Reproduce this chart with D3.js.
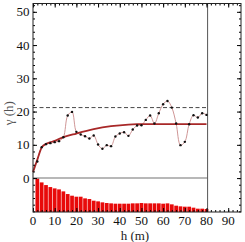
<!DOCTYPE html>
<html>
<head>
<meta charset="utf-8">
<script src="https://cdn.jsdelivr.net/npm/d3@7"></script>
<style>
  body { margin: 0; background: #fff; }
  text { font-family: "Liberation Serif", "DejaVu Serif", serif; }
</style>
</head>
<body>
<script>
// experimental semivariogram (lag in m, gamma)
let lags = [2, 4, 6, 8, 10, 12, 14, 16, 18, 20, 22, 24, 26, 28, 30, 32, 34, 36, 38, 40,
            42, 44, 46, 48, 50, 52, 54, 56, 58, 60, 62, 64, 66, 68, 70, 72, 74, 76, 78, 80];
let gammaExp = [5.0, 9.3, 10.2, 10.5, 10.8, 11.1, 12.3, 18.8, 19.9, 13.9,
                13.1, 12.6, 11.9, 12.8, 10.1, 8.8, 9.9, 9.6, 12.5, 13.4,
                13.8, 12.7, 14.6, 15.8, 15.9, 17.5, 18.8, 16.4, 19.5, 22.2,
                23.2, 21.2, 16.4, 9.9, 10.9, 16.2, 18.9, 18.2, 19.5, 19.0];
// number of pairs, drawn in the lower band (top of bar in gamma units)
let pairsTop = [0.0, -1.3, -2.1, -2.7, -3.1, -3.4, -4.0, -4.8, -5.3, -5.6,
                -5.6, -6.1, -6.3, -6.8, -7.0, -7.3, -7.5, -7.6, -7.7, -7.7,
                -7.7, -7.7, -7.6, -7.6, -7.5, -7.6, -7.6, -7.6, -7.6, -7.7,
                -7.6, -7.9, -8.3, -8.5, -8.6, -8.6, -8.9, -9.2, -9.2, -9.3];
// fitted model
let modelLag = [0, 2, 4, 6, 8, 10, 14, 20, 28, 36, 44, 48, 80];
let modelGamma = [1.8, 5.6, 9.2, 10.3, 10.8, 11.2, 12.3, 13.4, 14.7, 15.6, 16.1, 16.2, 16.2];
let sampleVar = 21.2;
let maxLag = 80.5;
let xTicks = [0, 10, 20, 30, 40, 50, 60, 70, 80, 90];
let yTicks = [0, 10, 20, 30, 40, 50];

let W = 245, H = 242;
let margin = {top: 3.5, right: 4, bottom: 30, left: 33};
let width = W - margin.left - margin.right,
    height = H - margin.top - margin.bottom;

let x = d3.scaleLinear().domain([0, 95.9]).range([0, width]);
let y = d3.scaleLinear().domain([-10.2, 52.5]).range([height, 0]);

let svg = d3.select("body").append("svg")
    .attr("width", W)
    .attr("height", H);

let g = svg.append("g")
    .attr("transform", "translate(" + margin.left + "," + margin.top + ")");

// bars of pair counts
let step = x(2) - x(0);
g.selectAll("rect.bar")
    .data(lags)
    .enter().append("rect")
    .attr("class", "bar")
    .attr("x", function(d) { return x(d - 1) + 0.3; })
    .attr("width", step - 0.6)
    .attr("y", function(d, i) { return y(pairsTop[i]); })
    .attr("height", function(d, i) { return y(-10.2) - y(pairsTop[i]); })
    .attr("fill", "#e80a0a");

// zero line
g.append("line")
    .attr("x1", x(0)).attr("x2", x(maxLag))
    .attr("y1", y(0)).attr("y2", y(0))
    .attr("stroke", "#a0a0a0")
    .attr("stroke-width", 1.5);

// sample variance
g.append("line")
    .attr("x1", x(0)).attr("x2", x(maxLag))
    .attr("y1", y(sampleVar)).attr("y2", y(sampleVar))
    .attr("stroke", "#333")
    .attr("stroke-width", 0.9)
    .attr("stroke-dasharray", "4,2.5");

// max lag line
g.append("line")
    .attr("x1", x(maxLag)).attr("x2", x(maxLag))
    .attr("y1", 0).attr("y2", height)
    .attr("stroke", "#555")
    .attr("stroke-width", 1);

// experimental line
let expLine = d3.line()
    .x(function(d, i) { return x(lags[i]); })
    .y(function(d) { return y(d); })
    .curve(d3.curveCatmullRom.alpha(0.5));

g.append("path")
    .datum(gammaExp)
    .attr("d", expLine)
    .attr("fill", "none")
    .attr("stroke", "#c98a8a")
    .attr("stroke-width", 0.9);

// model
let modelLine = d3.line()
    .x(function(d, i) { return x(modelLag[i]); })
    .y(function(d) { return y(d); })
    .curve(d3.curveMonotoneX);

g.append("path")
    .datum(modelGamma)
    .attr("d", modelLine)
    .attr("fill", "none")
    .attr("stroke", "#a82828")
    .attr("stroke-width", 1.8);

// points
g.selectAll("circle")
    .data(gammaExp)
    .enter().append("circle")
    .attr("cx", function(d, i) { return x(lags[i]); })
    .attr("cy", function(d) { return y(d); })
    .attr("r", 1.2)
    .attr("fill", "#111");

// axes with inward ticks
let xMinor = d3.range(0, 96, 2);
let yMinor = d3.range(-10, 53, 2);

g.append("g")
    .attr("transform", "translate(0," + height + ")")
    .call(d3.axisTop(x).tickValues(xMinor).tickSize(2).tickFormat(""))
    .call(function(a) { a.select(".domain").remove(); });
g.append("g")
    .attr("transform", "translate(0," + height + ")")
    .call(d3.axisTop(x).tickValues(xTicks).tickSize(4).tickFormat(""))
    .call(function(a) { a.select(".domain").remove(); });
g.append("g")
    .call(d3.axisBottom(x).tickValues(xMinor).tickSize(2).tickFormat(""))
    .call(function(a) { a.select(".domain").remove(); });
g.append("g")
    .call(d3.axisBottom(x).tickValues(xTicks).tickSize(4).tickFormat(""))
    .call(function(a) { a.select(".domain").remove(); });

g.append("g")
    .call(d3.axisRight(y).tickValues(yMinor).tickSize(2).tickFormat(""))
    .call(function(a) { a.select(".domain").remove(); });
g.append("g")
    .call(d3.axisRight(y).tickValues(yTicks).tickSize(4).tickFormat(""))
    .call(function(a) { a.select(".domain").remove(); });
g.append("g")
    .attr("transform", "translate(" + width + ",0)")
    .call(d3.axisLeft(y).tickValues(yMinor).tickSize(2).tickFormat(""))
    .call(function(a) { a.select(".domain").remove(); });
g.append("g")
    .attr("transform", "translate(" + width + ",0)")
    .call(d3.axisLeft(y).tickValues(yTicks).tickSize(4).tickFormat(""))
    .call(function(a) { a.select(".domain").remove(); });

// tick labels
g.selectAll("text.xl")
    .data(xTicks)
    .enter().append("text")
    .attr("class", "xl")
    .attr("x", function(d) { return x(d); })
    .attr("y", height + 12.5)
    .attr("text-anchor", "middle")
    .attr("font-size", 13)
    .attr("fill", "#111")
    .text(function(d) { return d; });

g.selectAll("text.yl")
    .data(yTicks)
    .enter().append("text")
    .attr("class", "yl")
    .attr("x", -3.5)
    .attr("y", function(d) { return y(d) + 4.5; })
    .attr("text-anchor", "end")
    .attr("font-size", 13)
    .attr("fill", "#111")
    .text(function(d) { return d; });

// frame
g.append("rect")
    .attr("width", width)
    .attr("height", height)
    .attr("fill", "none")
    .attr("stroke", "#222")
    .attr("stroke-width", 1);

// axis titles
svg.append("text")
    .attr("x", margin.left + x(47))
    .attr("y", H - 2)
    .attr("text-anchor", "middle")
    .attr("font-size", 13)
    .attr("fill", "#222")
    .text("h (m)");

svg.append("text")
    .attr("transform", "translate(12.5," + (margin.top + y(19.5)) + ") rotate(-90)")
    .attr("text-anchor", "middle")
    .attr("font-size", 13)
    .attr("fill", "#555")
    .text("γ (h)");
</script>
</body>
</html>
